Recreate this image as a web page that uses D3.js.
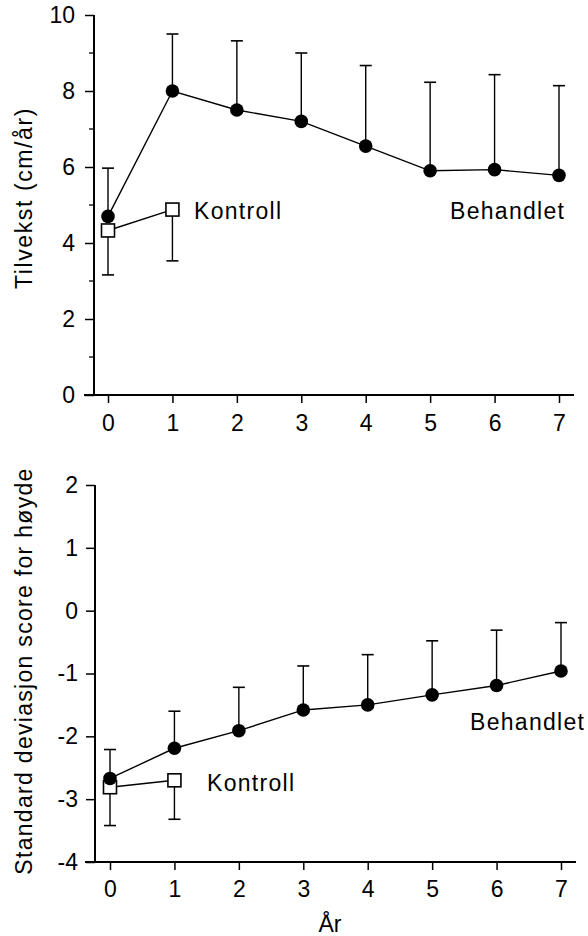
<!DOCTYPE html>
<html>
<head>
<meta charset="utf-8">
<script src="https://cdn.jsdelivr.net/npm/d3@7"></script>
<style>
  body { margin: 0; background: #fff; }
  svg { display: block; font-family: "Liberation Sans", Arial, Helvetica, sans-serif; }
</style>
</head>
<body>
<script>
// years on the x axis
const years = [0, 1, 2, 3, 4, 5, 6, 7];
const controlYears = [0, 1];

// top panel: growth velocity (cm/år)
const growthTreated = [4.7, 8.0, 7.5, 7.2, 6.55, 5.9, 5.93, 5.78];
const growthTreatedUpper = [5.97, 9.5, 9.32, 9.0, 8.67, 8.23, 8.43, 8.14];
const growthControl = [4.33, 4.88];
const growthControlLower = [3.16, 3.53];
const growthTicks = [0, 2, 4, 6, 8, 10];
const growthMinorTicks = [1, 3, 5, 7, 9];

// bottom panel: height SDS
const sdsTreated = [-2.67, -2.19, -1.91, -1.58, -1.5, -1.34, -1.19, -0.96];
const sdsTreatedUpper = [-2.21, -1.6, -1.22, -0.88, -0.7, -0.48, -0.31, -0.19];
const sdsControl = [-2.81, -2.7];
const sdsControlLower = [-3.42, -3.32];
const sdsTicks = [-4, -3, -2, -1, 0, 1, 2];

const W = 588, H = 936;
const svg = d3.select('body').append('svg').attr('width', W).attr('height', H);

// plain hyphen for negatives, like the original print
const fmt = d => String(d);

const drawPanel = cfg => {
    const x = d3.scaleLinear().domain([0, 7]).range(cfg.xRange);
    const y = d3.scaleLinear().domain(cfg.yDomain).range(cfg.yRange);
    const g = svg.append('g');
    const y0 = y(cfg.yDomain[0]);

    // axis lines
    g.append('line')
        .attr('x1', cfg.axisX).attr('x2', cfg.axisX)
        .attr('y1', y(cfg.yDomain[1])).attr('y2', y0 + 1)
        .attr('stroke', '#000').attr('stroke-width', 2);
    g.append('line')
        .attr('x1', cfg.axisX - 10).attr('x2', x(7) + 15)
        .attr('y1', y0).attr('y2', y0)
        .attr('stroke', '#000').attr('stroke-width', 2);

    // y ticks
    const yAxis = g.append('g')
        .attr('transform', `translate(${cfg.axisX},0)`)
        .call(d3.axisLeft(y).tickValues(cfg.ticks).tickSize(9).tickPadding(cfg.yPad).tickFormat(fmt));
    yAxis.select('.domain').remove();
    if (cfg.minor) {
        g.selectAll('line.minor').data(cfg.minor).enter().append('line')
            .attr('class', 'minor')
            .attr('x1', cfg.axisX - 5).attr('x2', cfg.axisX)
            .attr('y1', d => y(d)).attr('y2', d => y(d))
            .attr('stroke', '#000').attr('stroke-width', 1.3);
    }

    // x ticks
    const xAxis = g.append('g')
        .attr('transform', `translate(0,${y0})`)
        .call(d3.axisBottom(x).tickValues(years).tickSize(8).tickPadding(cfg.xPad).tickFormat(fmt));
    xAxis.select('.domain').remove();

    [yAxis, xAxis].forEach(a => {
        a.selectAll('line').attr('stroke', '#000').attr('stroke-width', 1.5);
        a.selectAll('text').attr('fill', '#000').style('font-size', '23px');
    });

    // error bars: treated upwards, control downwards
    const bar = (xs, vals, ends) => {
        xs.forEach((yr, i) => {
            const cx = x(yr);
            g.append('line')
                .attr('x1', cx).attr('x2', cx)
                .attr('y1', y(vals[i])).attr('y2', y(ends[i]))
                .attr('stroke', '#000').attr('stroke-width', 1.4);
            g.append('line')
                .attr('x1', cx - 6).attr('x2', cx + 6)
                .attr('y1', y(ends[i])).attr('y2', y(ends[i]))
                .attr('stroke', '#000').attr('stroke-width', 1.6);
        });
    };
    bar(years, cfg.treated, cfg.treatedUpper);
    bar(controlYears, cfg.control, cfg.controlLower);

    const line = d3.line().x(d => x(d[0])).y(d => y(d[1]));
    g.append('path')
        .attr('d', line(controlYears.map((yr, i) => [yr, cfg.control[i]])))
        .attr('fill', 'none').attr('stroke', '#000').attr('stroke-width', 1.4);
    g.append('path')
        .attr('d', line(years.map((yr, i) => [yr, cfg.treated[i]])))
        .attr('fill', 'none').attr('stroke', '#000').attr('stroke-width', 1.4);

    g.selectAll('rect.ctrl').data(controlYears).enter().append('rect')
        .attr('class', 'ctrl')
        .attr('x', d => x(d) - 6.5).attr('y', (d, i) => y(cfg.control[i]) - 6.5)
        .attr('width', 13).attr('height', 13)
        .attr('fill', '#fff').attr('stroke', '#000').attr('stroke-width', 1.6);

    g.selectAll('circle.trt').data(years).enter().append('circle')
        .attr('class', 'trt')
        .attr('cx', d => x(d)).attr('cy', (d, i) => y(cfg.treated[i]))
        .attr('r', 6.8).attr('fill', '#000');

    // series labels
    const label = (txt, lx, ly) => g.append('text')
        .attr('x', lx).attr('y', ly)
        .style('font-size', '23px').style('letter-spacing', '1.3px')
        .attr('fill', '#000').text(txt);
    label('Kontroll', cfg.kontroll[0], cfg.kontroll[1]);
    label('Behandlet', cfg.behandlet[0], cfg.behandlet[1]);

    // y title
    g.append('text')
        .attr('transform', `translate(${cfg.titlePos[0]},${cfg.titlePos[1]}) rotate(-90)`)
        .attr('text-anchor', 'middle')
        .style('font-size', '23px').style('letter-spacing', cfg.titleSpacing)
        .attr('fill', '#000').text(cfg.title);
};

drawPanel({
    xRange: [108, 559], yDomain: [0, 10], yRange: [395, 15], axisX: 94,
    ticks: growthTicks, minor: growthMinorTicks, yPad: 10, xPad: 12,
    treated: growthTreated, treatedUpper: growthTreatedUpper,
    control: growthControl, controlLower: growthControlLower,
    kontroll: [194, 219], behandlet: [450, 219],
    title: 'Tilvekst (cm/år)', titlePos: [32, 198], titleSpacing: '1.6px'
});

drawPanel({
    xRange: [110, 561], yDomain: [-4, 2], yRange: [862, 485], axisX: 95,
    ticks: sdsTicks, minor: null, yPad: 8, xPad: 11,
    treated: sdsTreated, treatedUpper: sdsTreatedUpper,
    control: sdsControl, controlLower: sdsControlLower,
    kontroll: [207, 791], behandlet: [470, 730],
    title: 'Standard deviasjon score for høyde', titlePos: [32, 671], titleSpacing: '1.3px'
});

svg.append('text')
    .attr('x', 330).attr('y', 932)
    .attr('text-anchor', 'middle')
    .style('font-size', '23px')
    .attr('fill', '#000').text('År');
</script>
</body>
</html>
